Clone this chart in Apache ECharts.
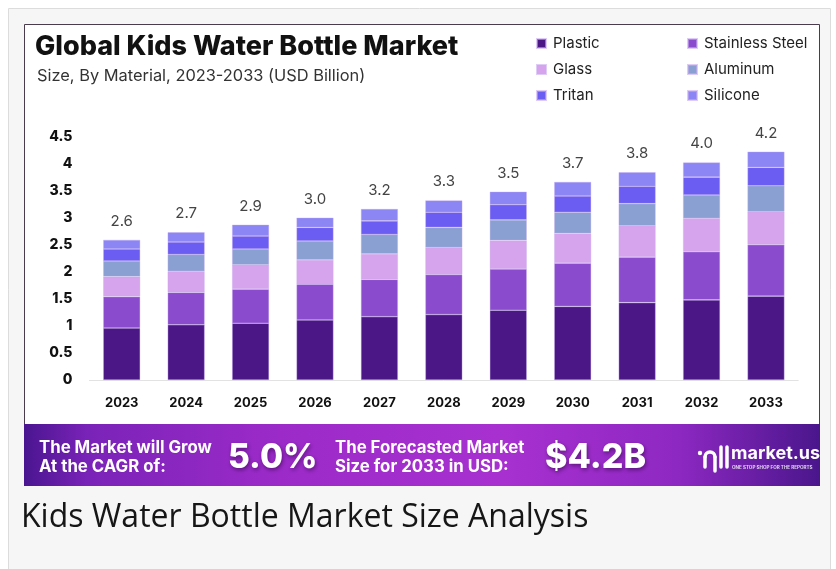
<!DOCTYPE html>
<html>
<head>
<meta charset="utf-8">
<script src="https://cdn.jsdelivr.net/npm/echarts@6/dist/echarts.min.js"></script>
<style>
html,body{margin:0;padding:0;background:#fff;}
#c{width:836px;height:569px;}
</style>
</head>
<body>
<div id="c"></div>
<script>
const years = ['2023','2024','2025','2026','2027','2028','2029','2030','2031','2032','2033'];
const plastic   = [0.96,1.02,1.05,1.11,1.17,1.21,1.29,1.36,1.43,1.48,1.55];
const stainless = [0.58,0.60,0.63,0.66,0.69,0.74,0.76,0.80,0.84,0.89,0.95];
const glass     = [0.37,0.39,0.45,0.45,0.47,0.50,0.53,0.55,0.58,0.62,0.61];
const aluminum  = [0.29,0.31,0.29,0.35,0.36,0.37,0.38,0.39,0.41,0.43,0.48];
const tritan    = [0.22,0.23,0.24,0.25,0.25,0.28,0.28,0.30,0.32,0.33,0.34];
const silicone  = [0.17,0.18,0.21,0.18,0.22,0.22,0.24,0.26,0.26,0.27,0.29];
const totals    = ['2.6','2.7','2.9','3.0','3.2','3.3','3.5','3.7','3.8','4.0','4.2'];
const yTicks    = ['0','0.5','1','1.5','2','2.5','3','3.5','4','4.5'];

const seriesDefs = [
  {name:'Plastic', data:plastic, color:'#4b1787'},
  {name:'Stainless Steel', data:stainless, color:'#8a4ccc'},
  {name:'Glass', data:glass, color:'#d6a4ec'},
  {name:'Aluminum', data:aluminum, color:'#8aa0d2'},
  {name:'Tritan', data:tritan, color:'#6b5cf2'},
  {name:'Silicone', data:silicone, color:'#8b86f4'}
];

const FONT = 'Inter, "Open Sans", sans-serif';

const series = seriesDefs.map((s, i) => {
  const o = {
    name: s.name, type: 'bar', stack: 'total', data: s.data, barWidth: 37,
    itemStyle: {color: s.color, borderColor: 'rgba(200,170,240,0.6)', borderWidth: 0.6},
    emphasis: {disabled: true}
  };
  if (i === seriesDefs.length - 1) {
    o.label = {
      show: true, position: 'top', distance: 11,
      formatter: p => totals[p.dataIndex],
      fontFamily: FONT, fontSize: 15, color: '#444'
    };
  }
  return o;
});

const legendText = {fontFamily: FONT, fontSize: 15, color: '#222', lineHeight: 16, padding:[0,0,0,2]};

const chart = echarts.init(document.getElementById('c'), null, {renderer: 'canvas'});
chart.setOption({
  animation: false,
  color: seriesDefs.map(s => s.color),
  title: [
    {text: 'Global Kids Water Bottle Market', left: 35, top: 33, padding: 0,
     textStyle: {fontFamily: FONT, fontSize: 27, fontWeight: 800, color: '#111'}},
    {text: 'Size, By Material, 2023-2033 (USD Billion)', left: 37, top: 68, padding: 0,
     textStyle: {fontFamily: FONT, fontSize: 16.4, fontWeight: 400, color: '#333'}}
  ],
  legend: [
    {data: ['Plastic','Glass','Tritan'], orient: 'vertical', left: 536, top: 35.5, padding: 0,
     itemWidth: 9, itemHeight: 9, itemGap: 10, icon: 'rect', textStyle: legendText, selectedMode: false},
    {data: ['Stainless Steel','Aluminum','Silicone'], orient: 'vertical', left: 687, top: 35.5, padding: 0,
     itemWidth: 9, itemHeight: 9, itemGap: 10, icon: 'rect', textStyle: legendText, selectedMode: false}
  ],
  grid: {left: 89.5, right: 37.8, top: 136.5, bottom: 189, containLabel: false},
  xAxis: {
    type: 'category', data: years,
    axisLine: {show: true, lineStyle: {color: '#e2e2e2', width: 1}},
    axisTick: {show: false},
    axisLabel: {fontFamily: FONT, fontSize: 13, fontWeight: 700, color: '#111', margin: 17}
  },
  yAxis: {
    type: 'value', min: 0, max: 4.5, interval: 0.5,
    axisLine: {show: false}, axisTick: {show: false}, splitLine: {show: false},
    axisLabel: {fontFamily: FONT, fontSize: 14, fontWeight: 800, color: '#111', margin: 17,
      formatter: (v) => yTicks[Math.round(v / 0.5)]}
  },
  graphic: [
    {type: 'rect', z: -10, shape: {x: 8.5, y: 8.5, width: 822, height: 580}, style: {fill: '#f6f6f6', stroke: '#dcdcdc', lineWidth: 1}},
    {type: 'rect', z: -9, shape: {x: 24.5, y: 24.5, width: 795, height: 461}, style: {fill: '#ffffff', stroke: '#4a3c4c', lineWidth: 1}},
    {type: 'rect', z: -8, shape: {x: 24, y: 424, width: 796, height: 62},
     style: {fill: new echarts.graphic.LinearGradient(0, 0, 1, 0, [
       {offset: 0, color: '#4a1590'}, {offset: 0.08, color: '#7a23b8'}, {offset: 0.3, color: '#9a2ac8'},
       {offset: 0.6, color: '#a830d0'}, {offset: 0.82, color: '#8e28c2'}, {offset: 1, color: '#4a168c'}])}},
    {type: 'text', z: 5, x: 39, y: 438.5, style: {text: 'The Market will Grow\nAt the CAGR of:', fill: '#fff',
      font: '700 16.8px ' + FONT, lineHeight: 19}},
    {type: 'text', z: 5, x: 228, y: 441, style: {text: '5.0%', fill: '#fff', font: '800 33.5px ' + FONT,
      textShadowColor: 'rgba(40,0,60,0.55)', textShadowBlur: 4, textShadowOffsetX: 1, textShadowOffsetY: 2}},
    {type: 'text', z: 5, x: 335, y: 438.5, style: {text: 'The Forecasted Market\nSize for 2033 in USD:', fill: '#fff',
      font: '700 16.8px ' + FONT, lineHeight: 19}},
    {type: 'text', z: 5, x: 545, y: 441, style: {text: '$4.2B', fill: '#fff', font: '800 34px ' + FONT,
      textShadowColor: 'rgba(40,0,60,0.55)', textShadowBlur: 4, textShadowOffsetX: 1, textShadowOffsetY: 2}},
    {type: 'circle', z: 5, shape: {cx: 700, cy: 453, r: 2.2}, style: {fill: '#fff'}},
    {type: 'arc', z: 5, shape: {cx: 710, cy: 457, r: 5, startAngle: Math.PI, endAngle: 2 * Math.PI},
     style: {fill: 'none', stroke: '#fff', lineWidth: 3.5, lineCap: 'round'}},
    {type: 'line', z: 5, shape: {x1: 705, y1: 457, x2: 705, y2: 467}, style: {stroke: '#fff', lineWidth: 3.5, lineCap: 'round'}},
    {type: 'line', z: 5, shape: {x1: 715, y1: 457, x2: 715, y2: 471}, style: {stroke: '#fff', lineWidth: 3.5, lineCap: 'round'}},
    {type: 'line', z: 5, shape: {x1: 721, y1: 447, x2: 721, y2: 467}, style: {stroke: '#fff', lineWidth: 3.5, lineCap: 'round'}},
    {type: 'line', z: 5, shape: {x1: 727, y1: 447, x2: 727, y2: 467}, style: {stroke: '#fff', lineWidth: 3.5, lineCap: 'round'}},
    {type: 'text', z: 5, x: 731, y: 445, style: {text: 'market.us', fill: '#fff', font: '700 18px ' + FONT}},
    {type: 'text', z: 5, x: 732, y: 465, style: {text: 'ONE STOP SHOP FOR THE REPORTS', fill: 'rgba(255,255,255,0.8)', font: '700 4.6px ' + FONT}},
    {type: 'text', z: 5, x: 21, y: 502, style: {text: 'Kids Water Bottle Market Size Analysis', fill: '#161616',
      font: '400 32px "Open Sans", sans-serif'}}
  ],
  series: series
});
</script>
</body>
</html>
